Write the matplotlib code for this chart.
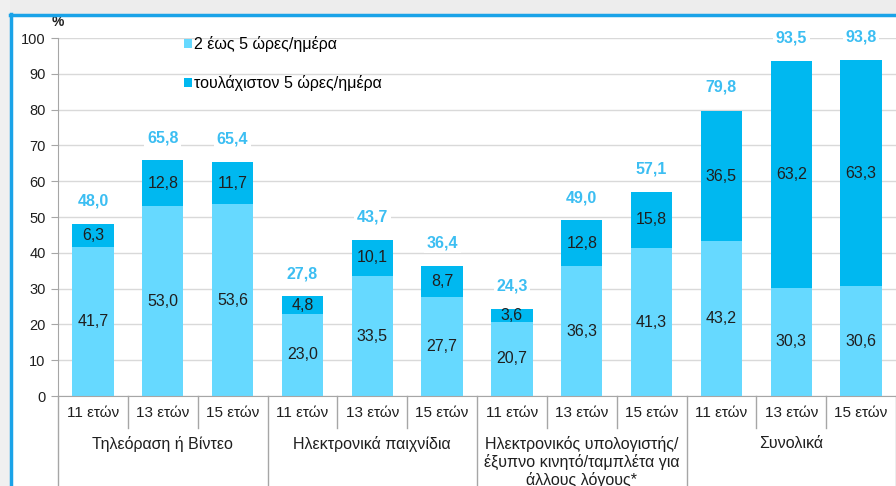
import matplotlib
matplotlib.use("Agg")
import matplotlib.pyplot as plt
import numpy as np
from matplotlib.patches import Rectangle, Patch
from matplotlib.lines import Line2D
import matplotlib.transforms as mtransforms

plt.rcParams['font.family'] = ['Liberation Sans', 'DejaVu Sans']

ages = ["11 ετών", "13 ετών", "15 ετών"] * 4
groups = ["Τηλεόραση ή Βίντεο", "Ηλεκτρονικά παιχνίδια",
          "Ηλεκτρονικός υπολογιστής/\nέξυπνο κινητό/ταμπλέτα για\nάλλους λόγους*", "Συνολικά"]
lower = [41.7, 53.0, 53.6, 23.0, 33.5, 27.7, 20.7, 36.3, 41.3, 43.2, 30.3, 30.6]
upper = [6.3, 12.8, 11.7, 4.8, 10.1, 8.7, 3.6, 12.8, 15.8, 36.5, 63.2, 63.3]
totals = [48.0, 65.8, 65.4, 27.8, 43.7, 36.4, 24.3, 49.0, 57.1, 79.8, 93.5, 93.8]
series_names = ["2 έως 5 ώρες/ημέρα", "τουλάχιστον 5 ώρες/ημέρα"]

c_light = "#66D9FF"
c_dark = "#00B8F0"
c_total = "#3CBEF2"
c_text = "#1F1F1F"

W, H = 896, 486
fig = plt.figure(figsize=(W / 100, H / 100), dpi=100)
fig.patch.set_facecolor("white")

# screenshot frame: grey outside, blue border
fig.patches.append(Rectangle((0, 1 - 14 / H), 1, 14 / H, transform=fig.transFigure,
                             facecolor="#EDEDED", edgecolor="none", zorder=0))
fig.patches.append(Rectangle((0, 0), 10 / W, 1, transform=fig.transFigure,
                             facecolor="#F0F0F0", edgecolor="none", zorder=0))
fig.add_artist(Line2D([11 / W, 11 / W], [0, 1 - 14 / H], transform=fig.transFigure,
                      color="#1AA3E8", lw=2.5))
fig.add_artist(Line2D([10 / W, 1], [1 - 15 / H, 1 - 15 / H], transform=fig.transFigure,
                      color="#1AA3E8", lw=2.5))

left_px, right_px, top_px, bot_px = 58, 896, 38, 396
ax = fig.add_axes([left_px / W, 1 - bot_px / H, (right_px - left_px) / W, (bot_px - top_px) / H])
ax.set_facecolor("none")

x = np.arange(len(lower))
bw = 0.59
ax.bar(x, lower, bw, color=c_light, zorder=2, label=series_names[0])
ax.bar(x, upper, bw, bottom=lower, color=c_dark, zorder=2, label=series_names[1])

fmt = lambda v: f"{v:.1f}".replace(".", ",")
for i in range(len(x)):
    ax.text(x[i], lower[i] / 2, fmt(lower[i]), ha="center", va="center",
            fontsize=11.5, color=c_text, zorder=3)
    ax.text(x[i], lower[i] + upper[i] / 2, fmt(upper[i]), ha="center", va="center",
            fontsize=11.5, color=c_text, zorder=3)
    ax.text(x[i], totals[i] + 6.4, fmt(totals[i]), ha="center", va="center",
            fontsize=11.5, fontweight="bold", color=c_total, zorder=3, clip_on=False,
            bbox=dict(facecolor="white", edgecolor="none", pad=2))

ax.set_xlim(-0.5, len(x) - 0.5)
ax.set_ylim(0, 100)
ax.set_yticks(np.arange(0, 101, 10))
ax.tick_params(axis="y", labelsize=10.5, length=5, color="#A6A6A6", pad=4, labelcolor="#1F1F1F")
ax.yaxis.grid(True, color="#D9D9D9", lw=1, zorder=0)
ax.set_axisbelow(True)
ax.set_xticks(x)
ax.set_xticklabels(ages, fontsize=11, color="#1F1F1F")
ax.tick_params(axis="x", length=0, pad=7)
for s in ["top", "right"]:
    ax.spines[s].set_visible(False)
ax.spines["left"].set_color("#A6A6A6")
ax.spines["bottom"].set_color("#A6A6A6")

ax.text(-0.008, 1.045, "%", transform=ax.transAxes, fontsize=10, ha="left", va="center",
        fontweight="bold", color="#1F1F1F")

# two-level category axis separators
trans = mtransforms.blended_transform_factory(ax.transData, ax.transAxes)
h_px = bot_px - top_px
short_y = -(428 - bot_px) / h_px
long_y = -(H - bot_px + 2) / h_px
for b in np.arange(-0.5, len(x), 1.0):
    is_group = (b + 0.5) % 3 == 0
    ax.add_line(Line2D([b, b], [0, long_y if is_group else short_y], transform=trans,
                       color="#A6A6A6", lw=1, clip_on=False))

for g, name in enumerate(groups):
    cx = g * 3 + 1
    ax.text(cx, -(436 - bot_px) / h_px, name, transform=trans, ha="center", va="top",
            fontsize=11.5, color="#1F1F1F", linespacing=1.15, clip_on=False)

handles = [Patch(facecolor=c_light), Patch(facecolor=c_dark)]
ax.legend(handles, series_names, loc="upper left",
          bbox_to_anchor=((184 - left_px) / (right_px - left_px), 1.006),
          frameon=False, fontsize=11.5, handlelength=0.5, handleheight=0.5,
          handletextpad=0.1, labelspacing=1.45, borderpad=0, borderaxespad=0)

fig.savefig("out.png", dpi=100)
